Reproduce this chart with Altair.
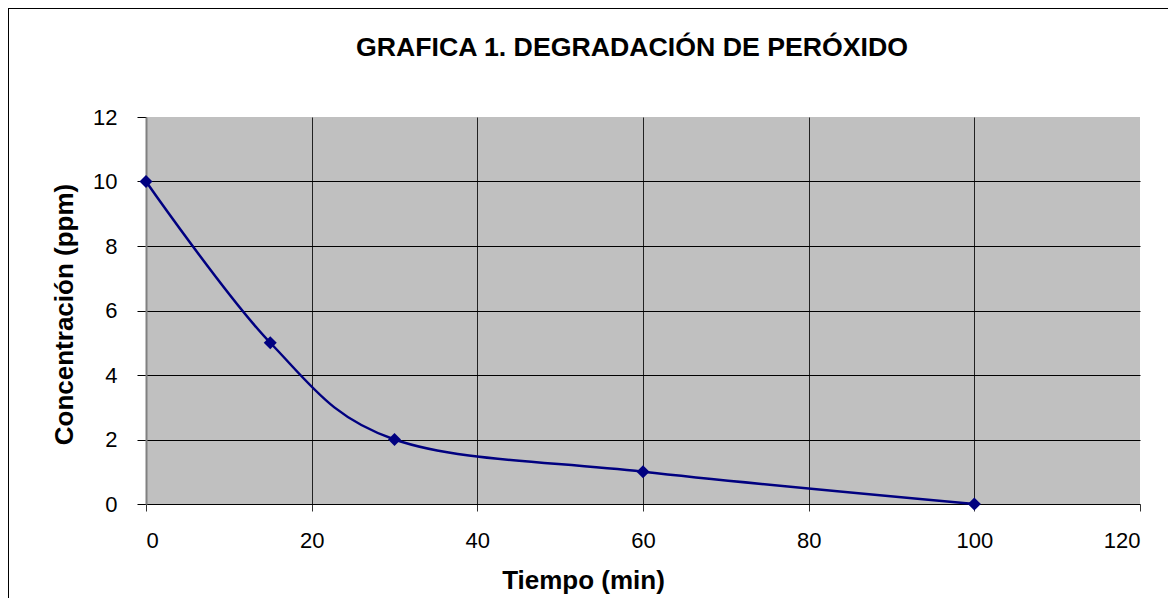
import altair as alt
import pandas as pd

# Data
tiempo_min = [0, 15, 30, 60, 100]
concentracion_ppm = [10, 5, 2, 1, 0]
x_ticks = [0, 20, 40, 60, 80, 100, 120]
y_ticks = [0, 2, 4, 6, 8, 10, 12]

df = pd.DataFrame({"t": tiempo_min, "c": concentracion_ppm})

FONT = "Liberation Sans"
PAD_L, PAD_T, PAD_R, PAD_B = 138, 109, 28, 94
W, H = 994, 387

x_enc = alt.X(
    "t:Q",
    scale=alt.Scale(domain=[0, 120], nice=False, zero=False),
    axis=alt.Axis(
        values=x_ticks,
        title="Tiempo (min)",
        titleFont=FONT, titleFontSize=26, titleFontWeight="bold", titleColor="black",
        titleX=437, titleY=84, titleBaseline="alphabetic", titleAlign="center",
        labelFont=FONT, labelFontSize=22, labelColor="black", labelPadding=19,
        tickSize=7, tickColor="#333333", tickWidth=1,
        domainColor="black", domainWidth=1,
        grid=True, gridColor="#222222", gridWidth=1,
        gridOpacity={"condition": {"test": "datum.value == 0 || datum.value == 120", "value": 0}, "value": 1},
    ),
)
y_enc = alt.Y(
    "c:Q",
    scale=alt.Scale(domain=[0, 12], nice=False, zero=False),
    axis=alt.Axis(
        values=y_ticks,
        title="Concentración (ppm)",
        titleFont=FONT, titleFontSize=26, titleFontWeight="bold", titleColor="black",
        titleX=-74, titleY=197, titleAngle=270, titleBaseline="alphabetic", titleAlign="center",
        labelFont=FONT, labelFontSize=22, labelColor="black", labelPadding=20,
        tickSize=9, tickColor="black", tickWidth=1,
        domainColor="#808080", domainWidth=2,
        grid=True, gridColor="black", gridWidth=1,
        gridOpacity={"condition": {"test": "datum.value == 0 || datum.value == 12", "value": 0}, "value": 1},
    ),
)

line = alt.Chart(df).mark_line(
    color="#000080", strokeWidth=2.5, interpolate="cardinal"
).encode(x=x_enc, y=y_enc)

points = alt.Chart(df).mark_point(
    shape="diamond", filled=True, color="#000080", size=170, opacity=1
).encode(x="t:Q", y="c:Q")

border_left = alt.Chart(df).mark_rule(color="black", strokeWidth=2).encode(
    x=alt.value(-PAD_L), y=alt.value(-PAD_T), y2=alt.value(H + PAD_B)
)
border_top = alt.Chart(df).mark_rule(color="black", strokeWidth=2).encode(
    x=alt.value(-PAD_L), x2=alt.value(W + PAD_R), y=alt.value(-PAD_T)
)

chart = alt.layer(line, points, border_left, border_top).properties(
    width=W,
    height=H,
    title=alt.TitleParams(
        text="GRAFICA 1. DEGRADACIÓN DE PERÓXIDO",
        font=FONT, fontSize=26.7, fontWeight="bold", color="black",
        anchor="middle", baseline="alphabetic", offset=-76, dx=-11,
    ),
    autosize=alt.AutoSizeParams(type="none"),
    padding={"left": PAD_L, "top": PAD_T, "right": PAD_R, "bottom": PAD_B},
).configure(
    background="white",
    view=alt.ViewConfig(fill="#C0C0C0", strokeWidth=0),
)

chart.save("out.html", embed_options={"renderer": "svg", "actions": False})
